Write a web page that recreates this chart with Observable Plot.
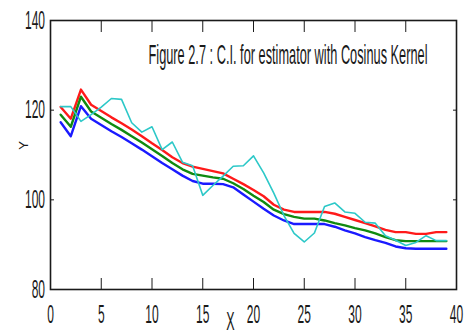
<!DOCTYPE html>
<html>
<head>
<meta charset="utf-8">
<script src="https://cdn.jsdelivr.net/npm/d3@7"></script>
<script src="https://cdn.jsdelivr.net/npm/@observablehq/plot@0.6"></script>
<style>
  html, body { margin: 0; padding: 0; background: #ffffff; }
  #chart { width: 464px; height: 334px; overflow: hidden; }
</style>
</head>
<body>
<div id="chart"></div>
<script>
// ---- data ----
const xValues = [1,2,3,4,5,6,7,8,9,10,11,12,13,14,15,16,17,18,19,20,
                 21,22,23,24,25,26,27,28,29,30,31,32,33,34,35,36,37,38,39];

// observed data (cyan)
const dataY = [120.8,120.8,117.5,119.0,120.7,122.6,122.4,117.2,115.1,116.3,
               111.2,112.9,108.4,107.6,101.0,103.2,105.3,107.5,107.6,109.8,
               106.0,101.5,96.5,92.5,90.6,92.6,98.5,99.3,97.3,97.0,
               95.0,94.8,92.0,91.0,89.8,90.5,92.0,90.9,90.9];

// upper confidence bound (red)
const upperY = [120.7,118.1,124.6,121.2,119.8,118.4,117.1,115.7,114.2,112.6,
                111.1,109.5,108.2,107.4,106.9,106.4,105.9,104.7,103.5,102.2,
                100.8,98.9,97.8,97.3,97.3,97.3,97.3,96.9,96.2,95.5,
                94.8,94.1,93.3,92.8,92.8,92.4,92.4,92.8,92.8];

// kernel estimate (green)
const estimateY = [119.0,116.3,123.0,119.7,118.3,116.9,115.6,114.2,112.8,111.3,
                   109.8,108.2,106.8,105.8,105.4,105.0,104.7,103.7,102.4,100.9,
                   99.5,97.8,96.8,96.2,95.8,95.8,95.4,94.8,94.3,93.7,
                   93.2,92.5,91.7,91.0,90.8,90.8,90.8,90.8,90.8];

// lower confidence bound (blue)
const lowerY = [117.3,114.2,120.9,118.1,116.7,115.3,114.0,112.6,111.2,109.7,
                108.2,106.8,105.4,104.2,103.6,103.6,103.5,102.8,101.2,99.6,
                98.0,96.5,95.4,94.6,94.6,94.6,94.6,94.0,93.2,92.5,
                91.7,91.0,90.4,89.6,89.2,89.1,89.1,89.1,89.1];

const xTicks = [0,5,10,15,20,25,30,35,40];
const yTicks = [80,100,120,140];
const titleText = "Figure 2.7 : C.I. for estimator with Cosinus Kernel";
const xLabel = "X";
const yLabel = "Y";

// ---- build tables ----
const toRows = (ys) => xValues.map((x, i) => ({x, y: ys[i]}));
const dataRows = toRows(dataY);
const upperRows = toRows(upperY);
const estRows = toRows(estimateY);
const lowerRows = toRows(lowerY);

const plot = Plot.plot({
  width: 464,
  height: 334,
  marginLeft: 50,
  marginRight: 8,
  marginTop: 20,
  marginBottom: 45,
  x: {domain: [0, 40]},
  y: {domain: [80, 140]},
  style: {
    fontFamily: "'Liberation Sans', Arial, sans-serif",
    fontSize: "12px",
    color: "#1a1a1a",
    background: "#ffffff",
    overflow: "visible"
  },
  marks: [
    Plot.line(upperRows, {x: "x", y: "y", stroke: "#ff1a1a", strokeWidth: 2.4}),
    Plot.line(estRows, {x: "x", y: "y", stroke: "#108a10", strokeWidth: 2.4}),
    Plot.line(lowerRows, {x: "x", y: "y", stroke: "#1a1aff", strokeWidth: 2.4}),
    Plot.line(dataRows, {x: "x", y: "y", stroke: "#2cc8c8", strokeWidth: 1.6}),
    Plot.frame({stroke: "#1a1a1a", strokeWidth: 1.6}),
    Plot.axisX({anchor: "bottom", ticks: xTicks, tickSize: -11, tickPadding: 32, label: null, stroke: "#1a1a1a"}),
    Plot.axisX({anchor: "top", ticks: xTicks, tickSize: -11, tickFormat: () => "", label: null, stroke: "#1a1a1a"}),
    Plot.axisY({anchor: "left", ticks: yTicks, tickSize: -4, tickPadding: 9.5, label: null, stroke: "#1a1a1a"}),
    Plot.axisY({anchor: "right", ticks: yTicks, tickSize: -4, tickFormat: () => "", label: null, stroke: "#1a1a1a"}),
    Plot.text([titleText], {frameAnchor: "top-left", dx: 98, dy: 34, textAnchor: "start", lineAnchor: "middle", fontSize: 12.8, fill: "#1a1a1a"}),
    Plot.text([xLabel], {frameAnchor: "bottom-left", dx: 180, dy: 32, textAnchor: "middle", lineAnchor: "middle", fontSize: 12.5, fill: "#1a1a1a"}),
    Plot.text([yLabel], {frameAnchor: "top-left", dx: -27, dy: 125, rotate: -90, textAnchor: "middle", lineAnchor: "middle", fontSize: 13, fill: "#1a1a1a"})
  ]
});

document.getElementById("chart").append(plot);

// The reference text is tall and narrow: stretch the labels vertically about their centres.
plot.querySelectorAll("text").forEach((t) => {
  const s = t.textContent;
  if (s === "" || s === yLabel) return;
  if (s === titleText) {
    t.setAttribute("textLength", "279");
    t.setAttribute("lengthAdjust", "spacingAndGlyphs");
  }
  const bb = t.getBBox();
  const cx = bb.x + bb.width / 2, cy = bb.y + bb.height / 2;
  const tr = t.getAttribute("transform") || "";
  t.setAttribute("transform", `${tr} translate(${cx},${cy}) scale(1,2.1) translate(${-cx},${-cy})`);
});
</script>
</body>
</html>
